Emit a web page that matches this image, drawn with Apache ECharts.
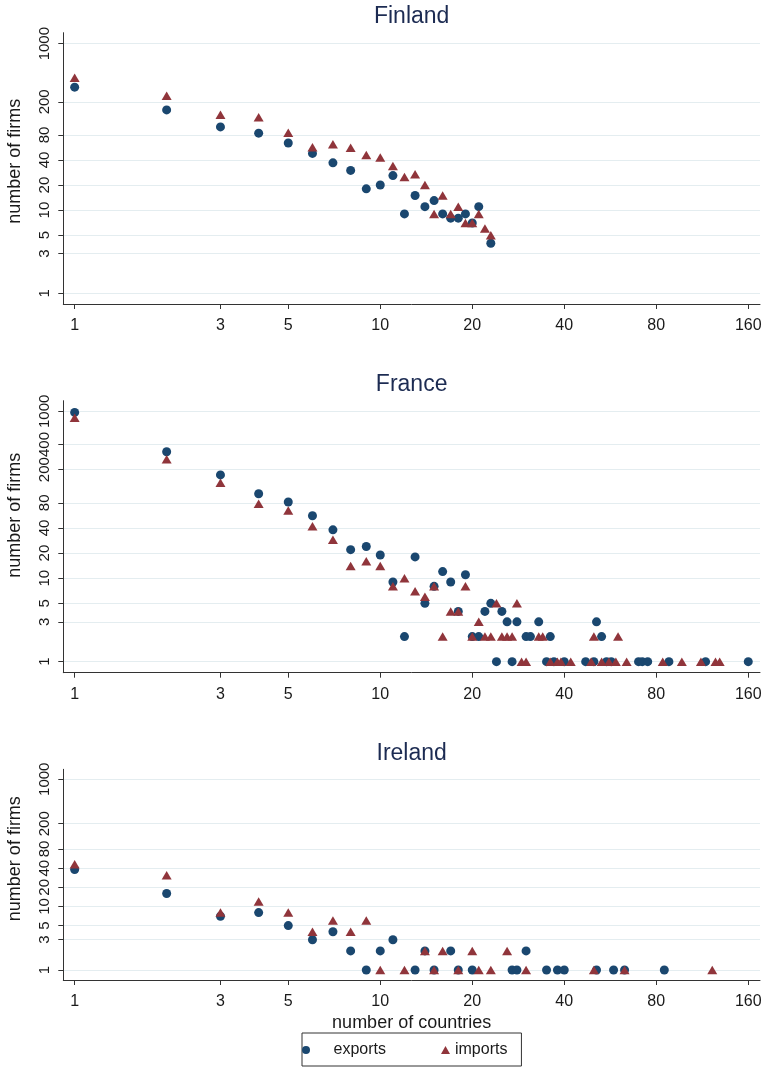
<!DOCTYPE html>
<html>
<head>
<meta charset="utf-8">
<script src="https://cdn.jsdelivr.net/npm/echarts@6/dist/echarts.min.js"></script>
<style>
  html, body { margin: 0; padding: 0; background: #ffffff; }
  #chart { width: 766px; height: 1068px; }
</style>
</head>
<body>
<div id="chart"></div>
<script>
// Tick marks on the log axes
const countryTicks = [1, 3, 5, 10, 20, 40, 80, 160];
const firmTicksFinland = [1, 3, 5, 10, 20, 40, 80, 200, 1000];
const firmTicksFrance = [1, 3, 5, 10, 20, 40, 80, 200, 400, 1000];
const firmTicksIreland = [1, 3, 5, 10, 20, 40, 80, 200, 1000];

// [number of countries, number of firms]
const finlandExports = [[1,300],[2,160],[3,100],[4,84],[5,64],[6,48],[7,37],[8,30],[9,18],[10,20],[11,26],[12,9],[13,15],[14,11],[15,13],[16,9],[17,8],[18,8],[19,9],[20,7],[21,11],[23,4]];
const finlandImports = [[1,390],[2,237],[3,140],[4,131],[5,85],[6,57],[7,62],[8,56],[9,46],[10,43],[11,34],[12,25],[13,27],[14,20],[15,9],[16,15],[17,9],[18,11],[19,7],[20,7],[21,9],[22,6],[23,5]];

const franceExports = [[1,970],[2,328],[3,173],[4,103],[5,82],[6,56],[7,38],[8,22],[9,24],[10,19],[11,9],[12,2],[13,18],[14,5],[15,8],[16,12],[17,9],[18,4],[19,11],[20,2],[21,2],[22,4],[23,5],[24,1],[25,4],[26,3],[27,1],[28,3],[30,2],[31,2],[33,3],[35,1],[36,2],[37,1],[40,1],[47,1],[50,1],[51,3],[53,2],[55,1],[57,1],[70,1],[72,1],[75,1],[88,1],[116,1],[160,1]];
const franceImports = [[1,840],[2,266],[3,139],[4,78],[5,65],[6,42],[7,29],[8,14],[9,16],[10,14],[11,8],[12,10],[13,7],[14,6],[15,8],[16,2],[17,4],[18,4],[19,8],[20,2],[21,3],[22,2],[23,2],[24,5],[25,2],[26,2],[27,2],[28,5],[29,1],[30,1],[33,2],[34,2],[36,1],[38,1],[39,1],[42,1],[49,1],[50,2],[53,1],[56,1],[59,1],[60,2],[64,1],[84,1],[97,1],[112,1],[125,1],[129,1]];

const irelandExports = [[1,38],[2,16],[3,7],[4,8],[5,5],[6,3],[7,4],[8,2],[9,1],[10,2],[11,3],[13,1],[14,2],[15,1],[17,2],[18,1],[20,1],[27,1],[28,1],[30,2],[35,1],[38,1],[40,1],[51,1],[58,1],[63,1],[85,1]];
const irelandImports = [[1,46],[2,31],[3,8],[4,12],[5,8],[6,4],[7,6],[8,4],[9,6],[10,1],[12,1],[14,2],[15,1],[16,2],[18,1],[20,2],[21,1],[23,1],[26,2],[30,1],[50,1],[63,1],[122,1]];

const FONT = '"Liberation Sans", Arial, Helvetica, sans-serif';
const NAVY = '#1a476f';
const MAROON = '#90353b';
const AXIS = '#333333';
const GRIDLINE = '#e4edf0';
const TITLE = '#1c2b52';

const panels = [
  { title: 'Finland', top: 32.7, height: 271.3, yMin: 0.744, yMax: 1355, yTicks: firmTicksFinland, titleTop: 5,     nameShift: 14, exp: finlandExports, imp: finlandImports },
  { title: 'France',  top: 400.7, height: 272,  yMin: 0.738, yMax: 1340, yTicks: firmTicksFrance,  titleTop: 373.5, nameShift: 43, exp: franceExports,  imp: franceImports },
  { title: 'Ireland', top: 769.3, height: 210.7, yMin: 0.697, yMax: 1435, yTicks: firmTicksIreland, titleTop: 741.8, nameShift: 32, exp: irelandExports, imp: irelandImports }
];

const plotLeft = 63.3;
const plotWidth = 696.7;

const fmt = v => String(Math.round(v));

const option = {
  animation: false,
  backgroundColor: '#ffffff',
  textStyle: { fontFamily: FONT },
  title: panels.map(p => ({
    text: p.title,
    left: plotLeft + plotWidth / 2,
    top: p.titleTop,
    textAlign: 'center',
    padding: 0,
    textStyle: { fontFamily: FONT, fontSize: 23, fontWeight: 'normal', color: TITLE }
  })),
  grid: panels.map(p => ({
    left: plotLeft, top: p.top, width: plotWidth, height: p.height,
    containLabel: false, outerBoundsMode: 'none'
  })),
  xAxis: panels.map((p, i) => ({
    type: 'log', logBase: 10, gridIndex: i,
    min: 0.918, max: 174.8,
    axisLine: { show: true, onZero: false, lineStyle: { color: AXIS, width: 1 } },
    axisTick: { show: true, inside: false, length: 5, customValues: countryTicks, lineStyle: { color: AXIS, width: 1 } },
    axisLabel: { show: true, customValues: countryTicks, formatter: fmt, hideOverlap: false,
                 fontFamily: FONT, fontSize: 16, color: '#1a1a1a', margin: 14 },
    splitLine: { show: false },
    minorTick: { show: false }, minorSplitLine: { show: false },
    name: i === 2 ? 'number of countries' : '',
    nameLocation: 'middle', nameGap: 34,
    nameTextStyle: { fontFamily: FONT, fontSize: 18, color: '#1a1a1a' }
  })),
  yAxis: panels.map((p, i) => ({
    type: 'log', logBase: 10, gridIndex: i,
    min: p.yMin, max: p.yMax,
    axisLine: { show: true, onZero: false, lineStyle: { color: AXIS, width: 1 } },
    axisTick: { show: true, inside: false, length: 5, customValues: p.yTicks, lineStyle: { color: AXIS, width: 1 } },
    axisLabel: { show: true, customValues: p.yTicks, formatter: fmt, rotate: 90, hideOverlap: false,
                 fontFamily: FONT, fontSize: 15, color: '#1a1a1a', margin: 11 },
    splitLine: { show: true, lineStyle: { color: GRIDLINE, width: 1.2 } },
    minorTick: { show: false }, minorSplitLine: { show: false },
    name: 'number of firms',
    nameLocation: 'middle', nameRotate: 90, nameGap: 39,
    nameTextStyle: { fontFamily: FONT, fontSize: 18, color: '#1a1a1a', padding: [0, 0, 0, p.nameShift] }
  })),
  legend: {
    show: true,
    left: 302, top: 1033,
    orient: 'horizontal',
    padding: [9, 14, 8, 0],
    itemWidth: 9, itemHeight: 8, itemGap: 55,
    borderColor: '#333333', borderWidth: 1,
    backgroundColor: '#ffffff',
    textStyle: { fontFamily: FONT, fontSize: 16, color: '#1a1a1a' },
    data: [
      { name: 'exports', icon: 'circle', textStyle: { padding: [0, 0, 0, 18] } },
      { name: 'imports', icon: 'triangle' }
    ]
  },
  series: panels.flatMap((p, i) => ([
    {
      name: 'exports', type: 'scatter', xAxisIndex: i, yAxisIndex: i,
      symbol: 'circle', symbolSize: 9,
      itemStyle: { color: NAVY, opacity: 1 },
      emphasis: { disabled: true },
      data: p.exp
    },
    {
      name: 'imports', type: 'scatter', xAxisIndex: i, yAxisIndex: i,
      symbol: 'triangle', symbolSize: [10, 8.5],
      itemStyle: { color: MAROON, opacity: 1 },
      emphasis: { disabled: true },
      data: p.imp
    }
  ]))
};

const chart = echarts.init(document.getElementById('chart'), null, { renderer: 'canvas' });
chart.setOption(option);
</script>
</body>
</html>
